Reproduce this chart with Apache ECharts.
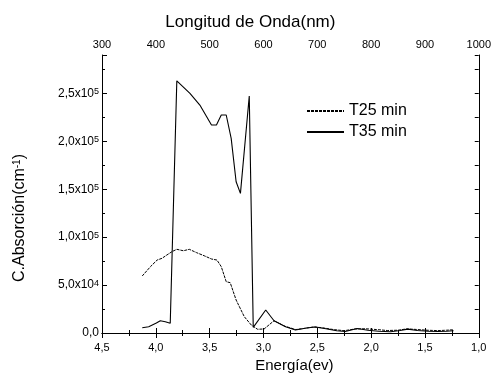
<!DOCTYPE html>
<html>
<head>
<meta charset="utf-8">
<script src="https://cdn.jsdelivr.net/npm/echarts@6/dist/echarts.min.js"></script>
<style>
    html, body { margin: 0; padding: 0; background: #fff; }
    #chart1 { width: 494px; height: 381px; }
</style>
</head>
<body>
<div id="chart1"></div>
<script>
// T25 min (curva punteada)
var energia25 = [4.126, 4.05, 3.988, 3.943, 3.897, 3.851, 3.805, 3.744, 3.689, 3.621, 3.545, 3.483, 3.432, 3.392, 3.346, 3.309, 3.254, 3.178, 3.113, 3.055, 2.994, 2.902,
    2.80, 2.70, 2.62, 2.53, 2.45, 2.35, 2.25, 2.15, 2.05, 1.95, 1.85, 1.75, 1.67, 1.58, 1.48, 1.38, 1.30, 1.234];
var absorcion25 = [59500, 69200, 76100, 77900, 81400, 84800, 87300, 85800, 87300, 83800, 80300, 77200, 76100, 69200, 53500, 52500, 34400, 17000, 8300, 3900, 4200, 12800,
    7000, 3600, 4800, 6400, 5400, 3600, 2400, 4200, 4400, 3600, 2600, 2900, 4300, 3700, 2900, 2500, 2900, 3400];

// T35 min (curva continua)
var energia35 = [4.126, 4.066, 3.995, 3.958, 3.912, 3.866, 3.805, 3.683, 3.591, 3.483, 3.437, 3.392, 3.346, 3.30, 3.254, 3.214, 3.132, 3.095, 2.979, 2.902,
    2.795, 2.703, 2.60, 2.52, 2.42, 2.32, 2.24, 2.13, 2.03, 1.93, 1.82, 1.73, 1.66, 1.57, 1.47, 1.38, 1.30, 1.234];
var absorcion35 = [5500, 6600, 10400, 12800, 11800, 10100, 263000, 250000, 237800, 217000, 217000, 227400, 227400, 203000, 157800, 145700, 247200, 5900, 24000, 12800,
    6600, 3100, 5200, 6200, 4400, 2400, 1600, 4700, 2900, 1900, 1300, 2600, 4000, 2600, 1900, 1600, 1900, 2300];

var nombres = ['T25 min', 'T35 min'];

var fuente = "'Liberation Sans', Arial, sans-serif";

function pares(xs, ys) {
    var arr = [];
    for (var i = 0; i < xs.length; i++) {
        arr.push([xs[i], ys[i]]);
    }
    return arr;
}

//etiqueta tipo 2,5x10^5
function etiquetaY(v) {
    if (v % 50000 !== 0) return '';
    if (v === 0) return '0,0';
    var e = Math.floor(Math.log10(v) + 1e-9);
    var m = (v / Math.pow(10, e)).toFixed(1).replace('.', ',');
    return m + 'x10{sup|' + e + '}';
}

var myChart1 = echarts.init(document.getElementById('chart1'));
var option = {
    animation: false,
    backgroundColor: '#fff',
    textStyle: { fontFamily: fuente, color: '#000' },
    grid: { left: 102, right: 12, top: 55, bottom: 48 },
    legend: {
        data: nombres,
        orient: 'vertical',
        left: 306,
        top: 103,
        padding: 0,
        itemWidth: 37,
        itemHeight: 14,
        itemGap: 5,
        itemStyle: { opacity: 0 },
        textStyle: { fontSize: 16, color: '#000', fontFamily: fuente }
    },
    xAxis: [
        {
            type: 'value',
            position: 'bottom',
            inverse: true,
            min: 1.0,
            max: 4.5,
            interval: 0.5,
            axisLine: { lineStyle: { color: '#000', width: 1 } },
            axisTick: { inside: true, length: 5, lineStyle: { color: '#000' } },
            minorTick: { show: true, splitNumber: 2, length: 3, lineStyle: { color: '#000' } },
            splitLine: { show: false },
            axisLabel: {
                fontSize: 11, color: '#000', margin: 9, fontFamily: fuente,
                formatter: function (v) { return v.toFixed(1).replace('.', ','); }
            },
            name: 'Energía(ev)',
            nameLocation: 'middle',
            nameGap: 24,
            nameTextStyle: { fontSize: 15, color: '#000', fontFamily: fuente, padding: [0, 0, 0, 8] }
        },
        {
            type: 'value',
            position: 'top',
            min: 300,
            max: 1000,
            interval: 100,
            axisLine: { lineStyle: { color: '#000', width: 1 } },
            axisTick: { inside: true, length: 5, lineStyle: { color: '#000' } },
            minorTick: { show: true, splitNumber: 2, length: 3, lineStyle: { color: '#000' } },
            splitLine: { show: false },
            axisLabel: {
                fontSize: 11, color: '#000', margin: 5, fontFamily: fuente,
                formatter: function (v) { return String(v); }
            },
            name: 'Longitud de Onda(nm)',
            nameLocation: 'middle',
            nameGap: 24,
            nameTextStyle: { fontSize: 17, color: '#000', fontFamily: fuente, padding: [0, 80, 0, 0] }
        }
    ],
    yAxis: [
        {
            type: 'value',
            position: 'left',
            min: 0,
            max: 290000,
            interval: 50000,
            axisLine: { show: true, lineStyle: { color: '#000', width: 1 } },
            axisTick: { inside: true, length: 5, lineStyle: { color: '#000' } },
            splitLine: { show: false },
            axisLabel: {
                fontSize: 12, color: '#000', margin: 3, fontFamily: fuente,
                formatter: etiquetaY,
                rich: {
                    sup: { fontSize: 9, verticalAlign: 'top', lineHeight: 9, fontFamily: fuente, color: '#000' }
                }
            },
            name: 'C.Absorción(cm{sup|-1})',
            nameLocation: 'middle',
            nameGap: 74,
            nameTextStyle: {
                fontSize: 16, color: '#000', fontFamily: fuente, padding: [0, 48, 0, 0],
                rich: { sup: { fontSize: 10, verticalAlign: 'top', lineHeight: 10, fontFamily: fuente, color: '#000' } }
            }
        },
        {
            //ticks menores del eje izquierdo
            type: 'value',
            position: 'left',
            min: 0,
            max: 290000,
            interval: 25000,
            axisLine: { show: false },
            axisTick: { show: true, inside: true, length: 3, lineStyle: { color: '#000' } },
            axisLabel: { show: false },
            splitLine: { show: false }
        },
        {
            type: 'value',
            position: 'right',
            min: 0,
            max: 290000,
            interval: 25000,
            axisLine: { show: true, lineStyle: { color: '#000', width: 1 } },
            axisTick: { show: true, inside: true, length: 4, lineStyle: { color: '#000' } },
            axisLabel: { show: false },
            splitLine: { show: false }
        }
    ],
    series: [
        {
            name: nombres[0],
            type: 'line',
            xAxisIndex: 0,
            yAxisIndex: 0,
            symbol: 'none',
            lineStyle: { color: '#000', width: 1, type: [3, 1] },
            itemStyle: { color: '#000' },
            data: pares(energia25, absorcion25)
        },
        {
            name: nombres[1],
            type: 'line',
            xAxisIndex: 0,
            yAxisIndex: 0,
            symbol: 'none',
            lineStyle: { color: '#000', width: 1.1 },
            itemStyle: { color: '#000' },
            data: pares(energia35, absorcion35)
        }
    ]
};
myChart1.setOption(option);
</script>
</body>
</html>
